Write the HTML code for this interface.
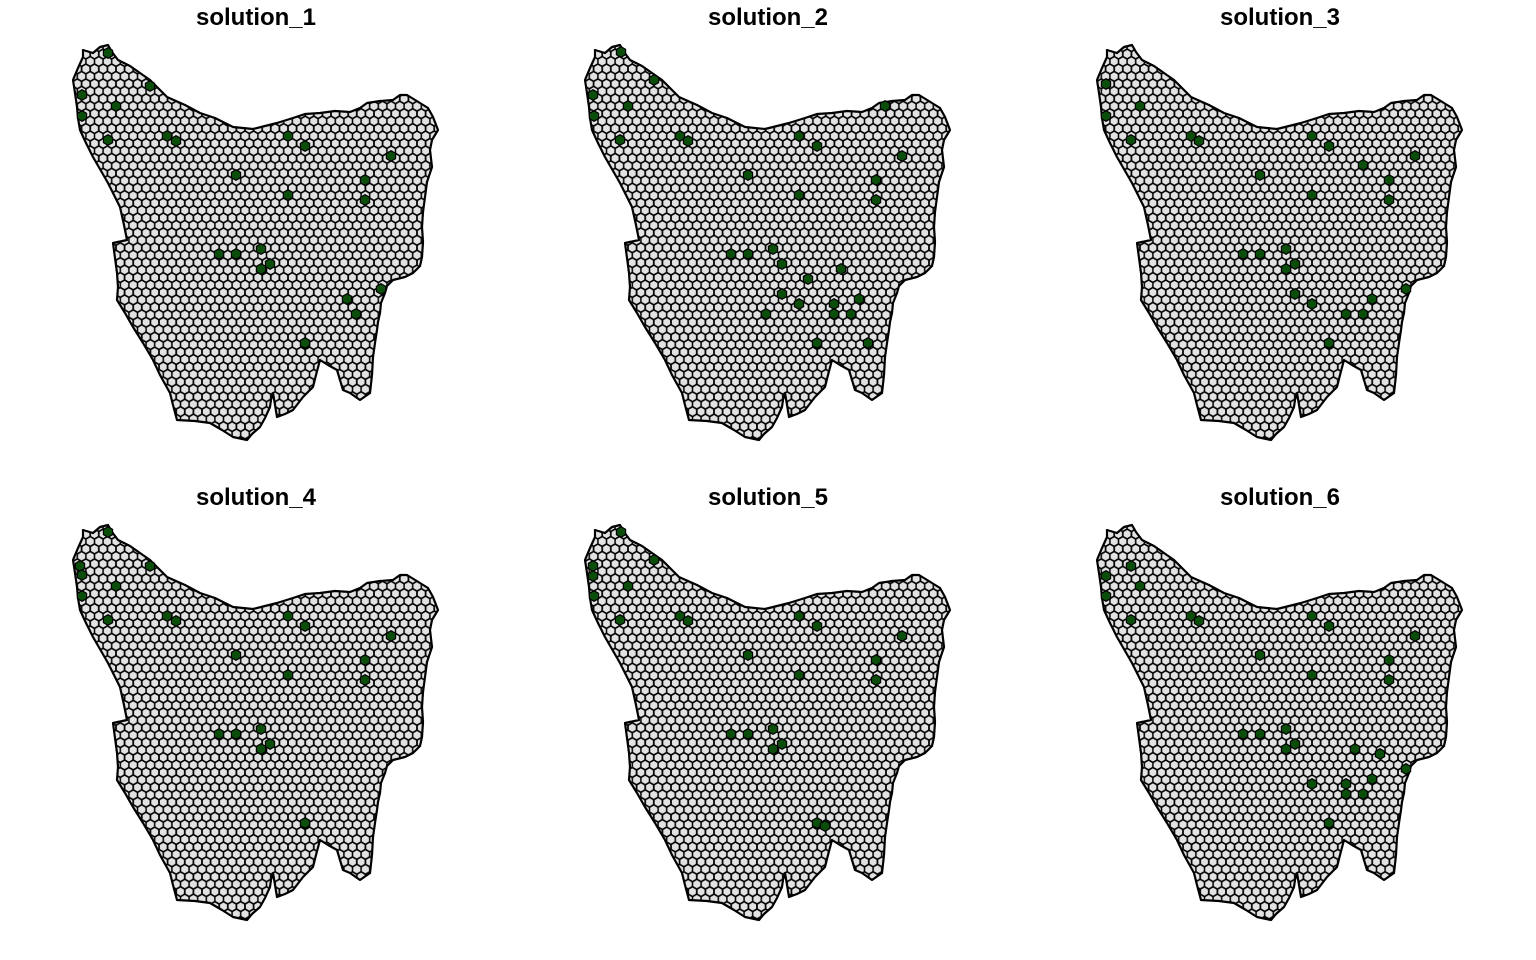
<!DOCTYPE html>
<html><head><meta charset="utf-8"><style>
html,body{margin:0;padding:0;background:#fff;}
svg{display:block;}
text{font-family:"Liberation Sans",Arial,sans-serif;font-weight:bold;font-size:24px;}
</style></head><body>
<svg id="c" width="1536" height="960" viewBox="0 0 1536 960">
<defs>
<pattern id="hex" patternUnits="userSpaceOnUse" x="283.7" y="131.03" width="8.6" height="14.9">
<rect width="8.6" height="14.9" fill="#e2e2e2"/>
<g fill="none" stroke="#000" stroke-width="1.5">
<path id="h" d="M4.3,0 L8.6,2.48 L8.6,7.45 L4.3,9.94 L0,7.45 L0,2.48 Z"/>
<use href="#h" x="-4.3" y="7.45"/><use href="#h" x="4.3" y="7.45"/>
<use href="#h" x="-4.3" y="-7.45"/><use href="#h" x="4.3" y="-7.45"/>
<use href="#h" x="0" y="14.9"/>
</g>
</pattern>
<path id="tas" d="M83,50 L93,53 L100,47 L108,45 L112,52 L118,60 L130,66 L140,73 L150,80 L167,97 L185,105 L200,113 L215,118 L233,127 L253,129 L265,126 L277,123 L293,118 L305,114 L320,113 L335,111 L350,112 L360,108 L367,103 L380,101 L393,100 L400,95 L407,95 L420,103 L428,108 L433,117 L438,130 L432,140 L430,150 L432,167 L427,182 L425,197 L423,212 L422,227 L423,242 L422,257 L420,266 L413,273 L405,277 L393,280 L387,286 L385,293 L381,303 L380,313 L378,322 L377,330 L375,343 L373,357 L372,375 L370,393 L360,400 L350,393 L343,390 L340,380 L337,370 L328,365 L320,360 L316,375 L313,387 L303,397 L293,410 L285,414 L277,417 L275,405 L273,393 L271,400 L270,407 L265,418 L260,427 L252,434 L247,440 L233,437 L222,430 L210,423 L195,421 L177,420 L173,405 L170,393 L160,375 L153,360 L143,343 L133,327 L125,313 L117,300 L118,287 L117,273 L115,258 L113,243 L127,240 L124,225 L120,207 L108,183 L93,157 L86,143 L80,130 L78,118 L77,107 L75,93 L73,80 L78,68 L83,57 Z"/>
</defs>
</svg>
<script>
const titles = ["solution_1","solution_2","solution_3","solution_4","solution_5","solution_6"];
const s1x=[108,82,82,116,150,108,167,176,288,305,391,236,365,288,365,219,236,261,270,261,381,347,356,305];
const s1y=[53,95,116,106,86,140,136,141,136,146,156,175,180,195,200,254,254,249,264,269,289,299,314,343];
const s2x=[109,81,82,116,142,108,168,176,287,305,373,390,236,364,287,364,219,236,261,270,329,296,270,287,322,347,254,322,339,305,356];
const s2y=[52,95,116,106,80,140,136,141,136,146,106,156,175,180,195,200,254,254,249,264,269,279,294,304,304,299,314,314,314,343,343];
const s3x=[82,82,116,107,167,175,288,305,391,339,236,365,288,365,219,236,262,271,262,271,288,348,382,322,339,305];
const s3y=[84,116,106,140,136,141,136,146,156,165,175,180,195,200,254,254,249,264,269,294,304,299,289,314,314,343];
const s4x=[108,80,82,82,116,150,108,167,176,288,305,391,236,365,288,365,219,236,261,270,261,305];
const s4y=[52,86,95,116,106,86,140,136,141,136,146,156,175,180,195,200,254,254,249,264,269,343];
const s5x=[109,81,81,82,116,142,108,168,176,287,305,390,236,364,287,364,219,236,261,270,261,305,313];
const s5y=[52,86,96,116,106,80,140,136,141,136,146,156,175,180,195,200,254,254,249,264,269,343,346];
const s6x=[82,82,116,107,107,167,175,288,305,391,236,365,288,365,219,236,262,271,262,331,356,382,348,288,322,339,322,305];
const s6y=[96,116,106,86,140,136,141,136,146,156,175,180,195,200,254,254,249,264,269,269,274,289,299,304,304,314,314,343];
const solX=[s1x,s2x,s3x,s4x,s5x,s6x];
const solY=[s1y,s2y,s3y,s4y,s5y,s6y];
const NS="http://www.w3.org/2000/svg";
const svg=document.getElementById('c');
function hexPath(cx,cy){const R=5.3;let d="";for(let k=0;k<6;k++){const a=Math.PI/180*(60*k-90);d+=(k?"L":"M")+(cx+R*Math.cos(a)).toFixed(2)+","+(cy+R*Math.sin(a)).toFixed(2);}return d+"Z";}
for(let p=0;p<6;p++){
  const ox=(p%3)*512, oy=Math.floor(p/3)*480;
  const t=document.createElementNS(NS,'text');
  
  
  t.setAttribute('x',ox+256);t.setAttribute('y',oy+25);t.setAttribute('text-anchor','middle');
  t.textContent=titles[p];svg.appendChild(t);
  const g=document.createElementNS(NS,'g');
  
  
  g.setAttribute('transform','translate('+ox+','+oy+')');
  svg.appendChild(g);
  const land=document.createElementNS(NS,'use');
  
  
  land.setAttribute('href','#tas');land.setAttribute('fill','url(#hex)');land.setAttribute('stroke','#000');land.setAttribute('stroke-width','2.2');land.setAttribute('stroke-linejoin','round');
  g.appendChild(land);
  const xs=solX[p], ys=solY[p];
  for(let i=0;i<xs.length;i++){
    const h=document.createElementNS(NS,'path');
    
    
    h.setAttribute('d',hexPath(xs[i],ys[i]));h.setAttribute('fill','#0b4d0b');h.setAttribute('stroke','#000');h.setAttribute('stroke-width','1.2');
    g.appendChild(h);
  }
}
</script>
</body></html>
